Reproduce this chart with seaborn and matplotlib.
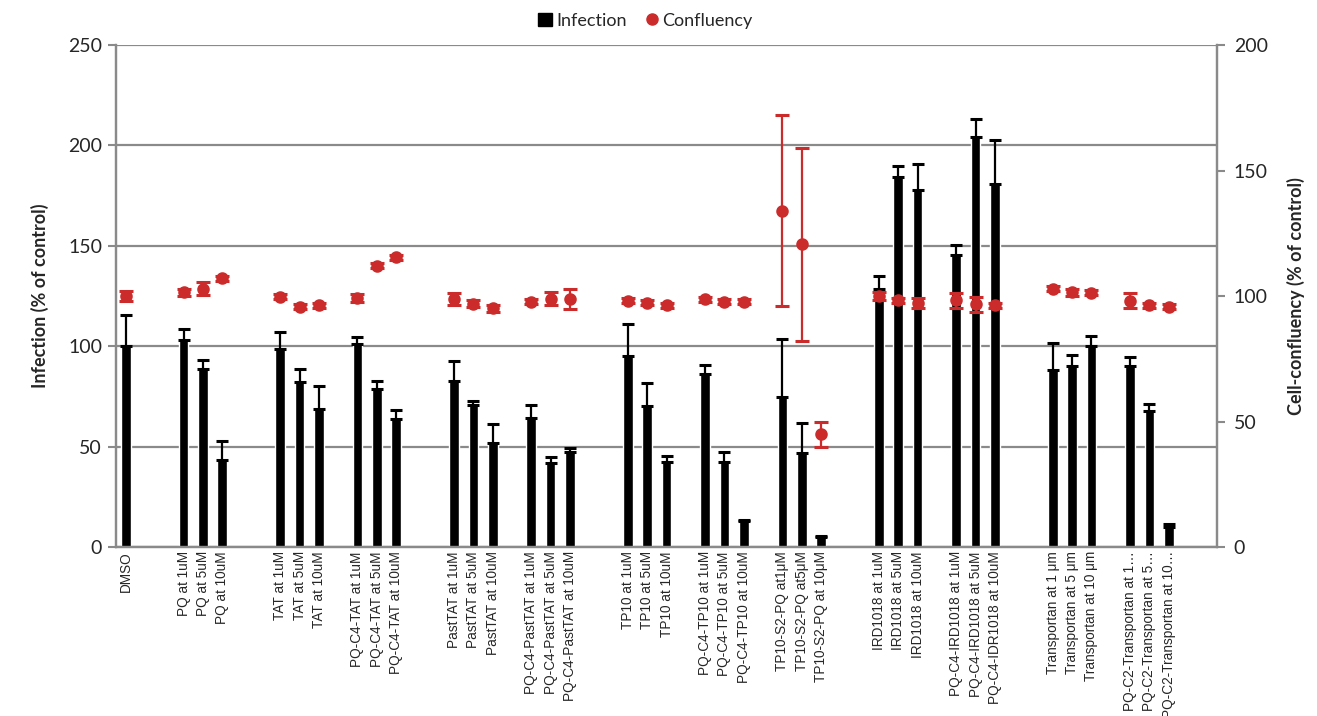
import numpy as np
import pandas as pd
import seaborn as sns
import matplotlib.pyplot as plt
from matplotlib.lines import Line2D
from matplotlib.patches import Patch

# tick labels (one per treatment, in plot order)
labels = [
    "DMSO",
    "PQ at 1uM", "PQ at 5uM", "PQ at 10uM",
    "TAT at 1uM", "TAT at 5uM", "TAT at 10uM",
    "PQ-C4-TAT at 1uM", "PQ-C4-TAT at 5uM", "PQ-C4-TAT at 10uM",
    "PastTAT at 1uM", "PastTAT at 5uM", "PastTAT at 10uM",
    "PQ-C4-PastTAT at 1uM", "PQ-C4-PastTAT at 5uM", "PQ-C4-PastTAT at 10uM",
    "TP10 at 1uM", "TP10 at 5uM", "TP10 at 10uM",
    "PQ-C4-TP10 at 1uM", "PQ-C4-TP10 at 5uM", "PQ-C4-TP10 at 10uM",
    "TP10-S2-PQ at1\u03bcM", "TP10-S2-PQ at5\u03bcM", "TP10-S2-PQ at 10\u03bcM",
    "IRD1018 at 1uM", "IRD1018 at 5uM", "IRD1018 at 10uM",
    "PQ-C4-IRD1018 at 1uM", "PQ-C4-IRD1018 at 5uM", "PQ-C4-IDR1018 at 10uM",
    "Transportan at 1 \u03bcm", "Transportan at 5 \u03bcm", "Transportan at 10 \u03bcm",
    "PQ-C2-Transportan at 1\u2026", "PQ-C2-Transportan at 5\u2026", "PQ-C2-Transportan at 10\u2026",
]

infection = [
    100,
    103, 88.5, 43.5,
    98.4, 82.3, 68.7,
    101, 78.5, 64,
    82.8, 70.7, 51.6,
    64.4, 41.7, 47.2,
    95.1, 70.2, 42.2,
    86, 42.2, 12.9,
    74.9, 47, 4.8,
    128.3, 184.4, 177.8,
    145.4, 204.3, 180.6,
    88.1, 90.3, 100.3,
    90.3, 67.7, 9.8,
]
infection_err = [
    15.5,
    5.4, 4.5, 9.3,
    8.6, 6.2, 11.5,
    3.4, 4.3, 4.2,
    9.8, 2.0, 9.5,
    6.2, 3.0, 1.9,
    15.8, 11.3, 3.1,
    4.6, 5.0, 0.5,
    28.8, 14.9, 0.6,
    6.7, 5.5, 12.8,
    5.0, 8.7, 22.1,
    13.3, 5.3, 4.8,
    4.5, 3.5, 1.5,
]

confluency = [
    100,
    101.5, 103, 107,
    99.7, 95.7, 96.4,
    99.2, 112, 115.4,
    98.8, 97, 95.1,
    97.7, 99, 98.8,
    98.1, 97.3, 96.4,
    98.7, 97.7, 97.7,
    134, 120.6, 45,
    100, 98.4, 97.3,
    98.4, 96.8, 96.3,
    102.9, 101.5, 101.4,
    98.1, 96.3, 95.7,
]
confluency_err = [
    2,
    1.5, 2.5, 1,
    1, 1, 1,
    1.5, 1, 1,
    2.5, 1.5, 1.5,
    1, 2.5, 4,
    1, 1, 1,
    1, 1, 1,
    38, 38.5, 5,
    1.5, 1, 2,
    3, 3, 1,
    1, 1.5, 1,
    3, 1, 1,
]

# treatment groups and empty category slots after each group (as in the Excel chart)
group_sizes = [1, 3, 3, 3, 3, 3, 3, 3, 3, 3, 3, 3, 3]
blanks_after = [2, 2, 1, 2, 1, 2, 1, 1, 2, 1, 2, 1, 2]

# build full category list including empty slots
slots, inf_v, inf_e, con_v, con_e, tick_txt = [], [], [], [], [], []
i = 0
blank_id = 0
for size, nb in zip(group_sizes, blanks_after):
    for _ in range(size):
        slots.append(labels[i])
        tick_txt.append(labels[i])
        inf_v.append(infection[i]); inf_e.append(infection_err[i])
        con_v.append(confluency[i]); con_e.append(confluency_err[i])
        i += 1
    for _ in range(nb):
        blank_id += 1
        slots.append(f"_blank{blank_id}")
        tick_txt.append("")
        inf_v.append(np.nan); inf_e.append(np.nan)
        con_v.append(np.nan); con_e.append(np.nan)

df = pd.DataFrame({"Treatment": slots, "Infection": inf_v, "InfErr": inf_e,
                   "Confluency": con_v, "ConErr": con_e})
pos = np.arange(len(slots))

sns.set_style("white")
plt.rcParams["font.family"] = ["Lato", "DejaVu Sans"]
grey = "#8a8a8a"
red = "#cc2b2b"

fig = plt.figure(figsize=(13.17, 7.16), dpi=100)
ax = fig.add_axes([0.0881, 0.236, 0.8360, 0.701])

sns.barplot(data=df, x="Treatment", y="Infection", order=slots, color="black",
            width=0.5, errorbar=None, saturation=1, ax=ax)
ok = ~df["Infection"].isna()
ax.errorbar(pos[ok], df["Infection"][ok], yerr=[np.zeros(ok.sum()), df["InfErr"][ok]],
            fmt="none", ecolor="black", elinewidth=1.6, capsize=4.5, capthick=2.2, zorder=3)

ax.set_ylim(0, 250)
ax.set_yticks(range(0, 251, 50))
ax.set_xlim(-0.5, len(slots) - 0.5)
ax.yaxis.grid(True, color=grey, lw=1.6)
ax.set_axisbelow(True)

ax2 = ax.twinx()
sns.pointplot(data=df, x="Treatment", y="Confluency", order=slots, color=red,
              linestyle="none", errorbar=None, markers="o", markersize=7, ax=ax2)
okc = ~df["Confluency"].isna()
ax2.errorbar(pos[okc], df["Confluency"][okc], yerr=df["ConErr"][okc], fmt="none",
             ecolor=red, elinewidth=1.6, capsize=5, capthick=2.2, zorder=4)
ax2.set_ylim(0, 200)
ax2.set_yticks(range(0, 201, 50))
ax2.set_xlim(-0.5, len(slots) - 0.5)

# x axis: labels at category centres, tick marks at category boundaries
ax.set_xticks(pos)
ax.set_xticklabels(tick_txt, rotation=90, fontsize=9.8, family=["Liberation Sans", "DejaVu Sans"])
ax.set_xticks(np.arange(-0.5, len(slots), 1), minor=True)
ax.tick_params(axis="x", which="major", length=0, pad=3)
ax.tick_params(axis="x", which="minor", length=5, width=1.2, color=grey, direction="out")
ax.tick_params(axis="y", which="major", length=6, width=1.5, color=grey, labelsize=14, pad=4)
ax2.tick_params(axis="y", which="major", length=6, width=1.5, color=grey, labelsize=14, pad=6)
ax.set_xlabel("")
ax2.set_xlabel("")

for a in (ax, ax2):
    for s in a.spines.values():
        s.set_color(grey)
        s.set_linewidth(1.6)
    a.spines["top"].set_visible(False)

ax.set_ylabel("Infection (% of control)", fontsize=13, fontweight="bold", labelpad=14)
ax2.set_ylabel("Cell-confluency (% of control)", fontsize=13, fontweight="bold", labelpad=14)

handles = [Patch(facecolor="black", edgecolor="black"),
           Line2D([0], [0], marker="o", color=red, linestyle="none", markersize=8)]
fig.legend(handles, ["Infection", "Confluency"], loc="upper center", ncol=2,
           bbox_to_anchor=(0.49, 1.005), frameon=False, fontsize=13,
           handlelength=0.8, handletextpad=0.2, columnspacing=1.0)

fig.savefig("out.png", dpi=100)
